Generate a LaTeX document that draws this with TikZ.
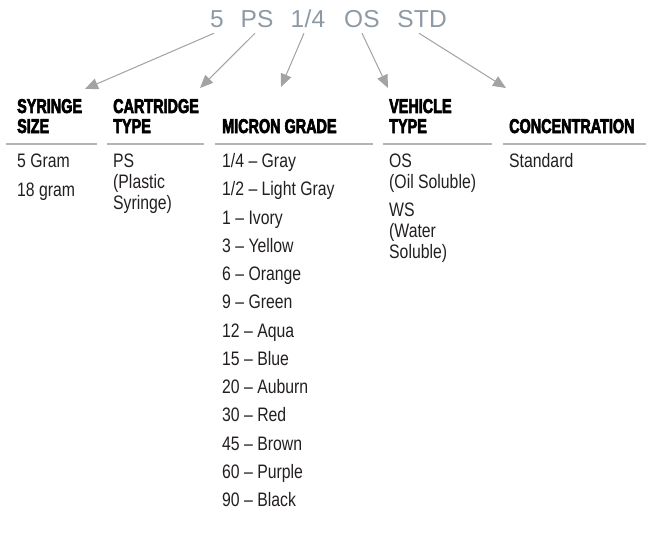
\documentclass[tikz,border=0pt]{standalone}
\usepackage{fontspec}
\setmainfont{Liberation Sans}[FakeStretch=0.81]
\newfontfamily\hdfont{Liberation Sans Bold}[FakeStretch=0.72,FakeBold=3]
\newfontfamily\ttlfont{Liberation Sans}[LetterSpace=1]
\usetikzlibrary{arrows.meta}
\definecolor{ttlgray}{HTML}{8D9AA6}
\definecolor{arrgray}{HTML}{A3A3A3}
\definecolor{rulegray}{HTML}{B5B5B5}
\definecolor{txt}{HTML}{231F20}
\tikzset{
  ttl/.style={inner sep=0pt, outer ysep=5pt, anchor=base, text=ttlgray, font=\ttlfont\fontsize{24.5}{24.5}\selectfont},
  hdr/.style={inner sep=0pt, anchor=base west, text=black, font=\hdfont\fontsize{20}{20}\selectfont},
  itm/.style={inner sep=0pt, anchor=base west, text=txt, font=\fontsize{19.5}{19.5}\selectfont},
  arr/.style={draw=arrgray, line width=1pt, -{Triangle[length=13pt,width=11pt]}, fill=arrgray},
  rl/.style={draw=rulegray, line width=1.4pt}
}
\begin{document}
\begin{tikzpicture}[x=1pt,y=-1pt]
\useasboundingbox (0,0) rectangle (646,535);
% title tokens
\node[ttl] (t1) at (217,28) {5};
\node[ttl] (t2) at (257,28) {PS};
\node[ttl] (t3) at (308,28) {1/4};
\node[ttl] (t4) at (362,28) {OS};
\node[ttl] (t5) at (422,28) {STD};
% arrow tips
\coordinate (e1) at (85,89);
\coordinate (e2) at (200,88);
\coordinate (e3) at (281,87);
\coordinate (e4) at (388,88);
\coordinate (e5) at (506,88);
\draw[arr] ([xshift=-3pt]t1.south) -- (e1);
\draw[arr] ([xshift=-2pt]t2.south) -- (e2);
\draw[arr] ([xshift=-4pt]t3.south) -- (e3);
\draw[arr] (t4.south) -- (e4);
\draw[arr] ([xshift=-3pt]t5.south) -- (e5);
% headers
\node[hdr] (h1a) at (17,113) {SYRINGE};
\node[hdr] (h1b) at (17,133) {SIZE};
\node[hdr] (h2a) at (113,113) {CARTRIDGE};
\node[hdr] (h2b) at (113,133) {TYPE};
\node[hdr] (h3) at (222,133) {MICRON GRADE};
\node[hdr] (h4a) at (389,113) {VEHICLE};
\node[hdr] (h4b) at (389,133) {TYPE};
\node[hdr] (h5) at (509,133) {CONCENTRATION};
% rules
\coordinate (r1a) at (6,144);   \coordinate (r1b) at (97,144);
\coordinate (r2a) at (107,144); \coordinate (r2b) at (204,144);
\coordinate (r3a) at (215,144); \coordinate (r3b) at (373,144);
\coordinate (r4a) at (383,144); \coordinate (r4b) at (492,144);
\coordinate (r5a) at (503,144); \coordinate (r5b) at (646,144);
\draw[rl] (r1a) -- (r1b);
\draw[rl] (r2a) -- (r2b);
\draw[rl] (r3a) -- (r3b);
\draw[rl] (r4a) -- (r4b);
\draw[rl] (r5a) -- (r5b);
% column 1
\node[itm] (s1) at (17,167.5) {5 Gram};
\node[itm] (s2) at (17,196) {18 gram};
% column 2
\node[itm] (c1) at (113,167.5) {PS};
\node[itm] (c2) at (113,188.5) {(Plastic};
\node[itm] (c3) at (113,209.5) {Syringe)};
% column 3
\node[itm] (m1) at (222,167.5) {1/4 – Gray};
\node[itm] (m2) at (222,195.75) {1/2 – Light Gray};
\node[itm] (m3) at (222,224) {1 – Ivory};
\node[itm] (m4) at (222,252.25) {3 – Yellow};
\node[itm] (m5) at (222,280.5) {6 – Orange};
\node[itm] (m6) at (222,308.75) {9 – Green};
\node[itm] (m7) at (222,337) {12 – Aqua};
\node[itm] (m8) at (222,365.25) {15 – Blue};
\node[itm] (m9) at (222,393.5) {20 – Auburn};
\node[itm] (m10) at (222,421.75) {30 – Red};
\node[itm] (m11) at (222,450) {45 – Brown};
\node[itm] (m12) at (222,478.25) {60 – Purple};
\node[itm] (m13) at (222,506.5) {90 – Black};
% column 4
\node[itm] (v1) at (389,167.5) {OS};
\node[itm] (v2) at (389,188.5) {(Oil Soluble)};
\node[itm] (v3) at (389,216.5) {WS};
\node[itm] (v4) at (389,237.5) {(Water};
\node[itm] (v5) at (389,258.5) {Soluble)};
% column 5
\node[itm] (k1) at (509,167.5) {Standard};
\end{tikzpicture}
\end{document}
